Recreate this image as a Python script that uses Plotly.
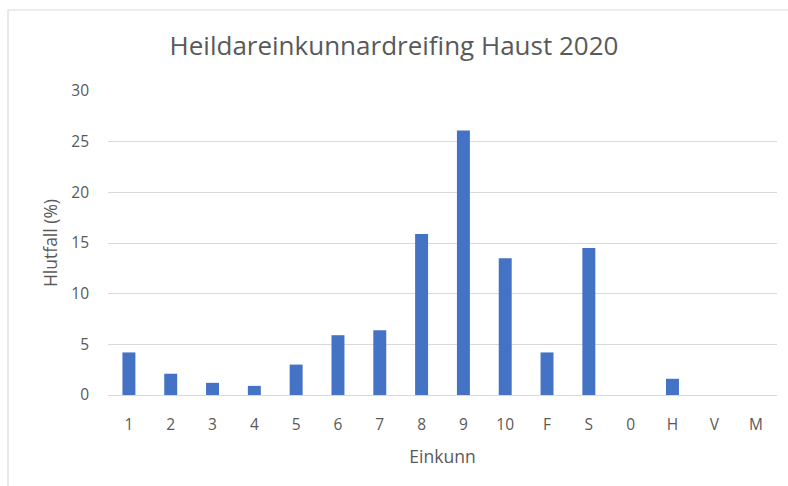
import plotly.graph_objects as go

categories = ["1", "2", "3", "4", "5", "6", "7", "8", "9", "10", "F", "S", "0", "H", "V", "M"]
values = [4.2, 2.1, 1.2, 0.9, 3.0, 5.9, 6.4, 15.9, 26.1, 13.5, 4.2, 14.5, None, 1.6, None, None]
y_ticks = [0, 5, 10, 15, 20, 25, 30]

W, H = 788, 486
ml, mr, mt, mb = 108, 11, 91, 91
pw, ph = W - ml - mr, H - mt - mb

FONT = "Open Sans"
GRAY = "#595959"
GRID = "#D9D9D9"

fig = go.Figure(go.Bar(x=categories, y=values, marker=dict(color="#4472C4", line=dict(width=0))))

fig.update_layout(
    width=W, height=H,
    margin=dict(l=ml, r=mr, t=mt, b=mb),
    paper_bgcolor="white", plot_bgcolor="white",
    bargap=0.69,
    showlegend=False,
    font=dict(family=FONT, color=GRAY),
    title=dict(text="Heildareinkunnardreifing Haust 2020", x=0.5, xanchor="center",
               y=1 - 46 / H, yanchor="middle", font=dict(family=FONT, size=26, color=GRAY)),
)
fig.update_xaxes(
    type="category", categoryorder="array", categoryarray=categories,
    showgrid=False, showline=True, linecolor=GRID, linewidth=1,
    ticks="", tickfont=dict(family=FONT, size=15.5, color=GRAY),
    ticklabelstandoff=15,
    title=dict(text="Einkunn", font=dict(family=FONT, size=17.5, color=GRAY), standoff=17),
)
fig.update_yaxes(
    range=[0, 30], tickvals=y_ticks, showgrid=True, gridcolor=GRID, gridwidth=1,
    zeroline=True, zerolinecolor=GRID, zerolinewidth=1, showline=False,
    ticks="", tickfont=dict(family=FONT, size=15.5, color=GRAY),
    ticklabelstandoff=18,
    title=dict(text="Hlutfall (%)", font=dict(family=FONT, size=17.5, color=GRAY), standoff=9),
)

# chart-area border (Excel style)
def px2x(px):
    return (px - ml) / pw

def py2y(py):
    return (H - mb - py) / ph

fig.add_shape(type="rect", xref="paper", yref="paper",
              x0=px2x(8), x1=px2x(W + 5), y0=py2y(H + 5), y1=py2y(10),
              line=dict(color=GRID, width=1.2), fillcolor="rgba(0,0,0,0)", layer="below")

fig.write_html("out.html", config={"displayModeBar": False},
               post_script="document.body.style.margin='0';document.body.style.overflow='hidden';")
